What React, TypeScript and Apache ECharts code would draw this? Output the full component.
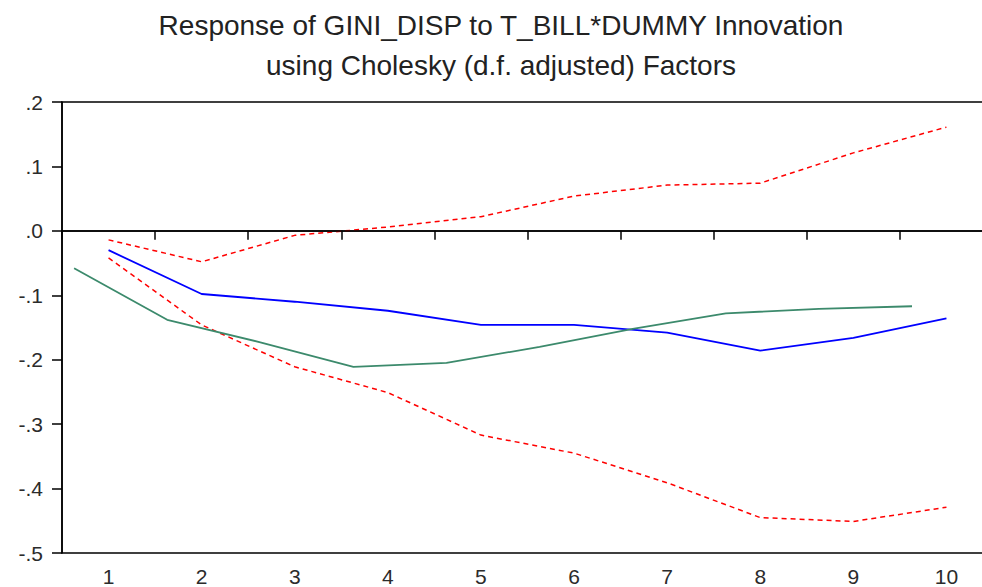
import React, { useEffect, useRef } from "react";
import * as echarts from "echarts";

const categories = ["1", "2", "3", "4", "5", "6", "7", "8", "9", "10"];
const response = [-0.03, -0.098, -0.11, -0.124, -0.146, -0.146, -0.158, -0.186, -0.166, -0.136];
const upperBand = [-0.014, -0.048, -0.007, 0.006, 0.022, 0.054, 0.071, 0.074, 0.121, 0.161];
const lowerBand = [-0.042, -0.146, -0.211, -0.251, -0.317, -0.345, -0.391, -0.445, -0.451, -0.429];
const greenSteps = [1, 2, 3, 4, 5, 6, 7, 8, 9, 10];
const greenValues = [-0.058, -0.138, -0.173, -0.211, -0.205, -0.18, -0.152, -0.128, -0.121, -0.117];
const titleLines = [
  "Response of GINI_DISP to T_BILL*DUMMY Innovation",
  "using Cholesky (d.f. adjusted) Factors",
];

const fmt = (v: number) => {
  const s = Math.abs(v).toFixed(1).replace(/^0/, "");
  return (v < -1e-9 ? "-" : "") + s;
};

export default function App() {
  const ref = useRef<HTMLDivElement>(null);
  useEffect(() => {
    document.body.style.margin = "0";
    if (!ref.current) return;
    const chart = echarts.init(ref.current, null, { renderer: "svg" });
    const textColor = "#2b2b2b";
    chart.setOption({
      animation: false,
      backgroundColor: "#ffffff",
      title: {
        text: titleLines.join("\n"),
        left: 496,
        top: 0,
        textAlign: "center",
        textStyle: {
          fontFamily: "Liberation Sans, Arial, sans-serif",
          fontSize: 28,
          fontWeight: "normal",
          color: "#222",
          lineHeight: 40,
        },
      },
      grid: {
        left: 62,
        top: 102,
        width: 931,
        height: 451,
        show: true,
        borderColor: "#000",
        borderWidth: 1.5,
        backgroundColor: "transparent",
      },
      xAxis: [
        {
          type: "category",
          data: categories,
          boundaryGap: true,
          axisLine: { lineStyle: { color: "#000", width: 1.5 } },
          axisTick: { show: true, length: 9, lineStyle: { color: "#000", width: 1.5 }, interval: 0 },
          axisLabel: {
            margin: 13,
            fontSize: 21,
            color: textColor,
            fontFamily: "Liberation Sans, Arial, sans-serif",
            interval: 0,
          },
          splitLine: { show: false },
        },
        {
          type: "value",
          min: 0.87,
          max: 10.87,
          show: false,
        },
      ],
      yAxis: {
        type: "value",
        min: -0.5,
        max: 0.2,
        interval: 0.1,
        axisLine: { show: true, lineStyle: { color: "#000", width: 1.5 } },
        axisTick: { show: true, length: 10, lineStyle: { color: "#000", width: 1.5 } },
        axisLabel: {
          margin: 19,
          fontSize: 21,
          color: textColor,
          fontFamily: "Liberation Sans, Arial, sans-serif",
          formatter: (v: number) => fmt(v),
        },
        splitLine: { show: false },
      },
      series: [
        {
          type: "line",
          data: upperBand,
          symbol: "none",
          lineStyle: { color: "#ff0000", width: 1.5, type: [5, 4] },
          markLine: {
            silent: true,
            symbol: "none",
            label: { show: false },
            lineStyle: { color: "#000", width: 1.5, type: "solid" },
            data: [{ yAxis: 0 }],
          },
        },
        {
          type: "line",
          data: lowerBand,
          symbol: "none",
          lineStyle: { color: "#ff0000", width: 1.5, type: [5, 4] },
        },
        {
          type: "line",
          data: response,
          symbol: "none",
          lineStyle: { color: "#0000ff", width: 1.8 },
        },
        {
          type: "line",
          xAxisIndex: 1,
          data: greenSteps.map((s, i) => [s, greenValues[i]]),
          symbol: "none",
          lineStyle: { color: "#3c8a6c", width: 1.8 },
        },
      ],
    });
    return () => chart.dispose();
  }, []);
  return (
    <div style={{ width: 982, height: 587, overflow: "hidden", position: "relative" }}>
      <div ref={ref} style={{ width: 1000, height: 587 }} />
    </div>
  );
}
